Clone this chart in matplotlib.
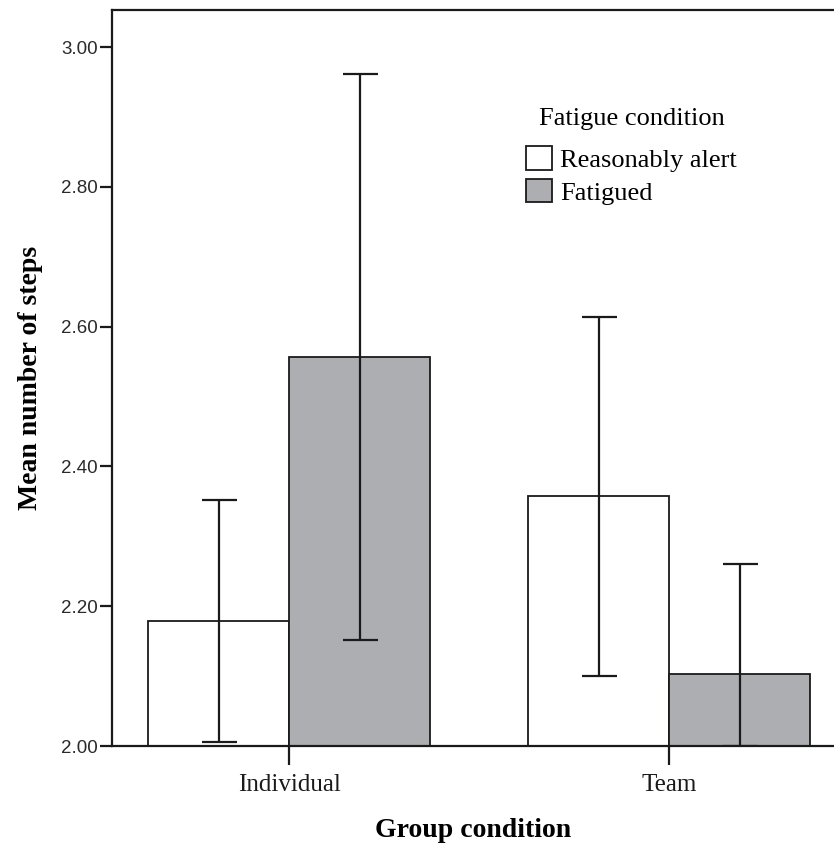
import matplotlib.pyplot as plt
import numpy as np

groups = ['Individual', 'Team']
series = ['Reasonably alert', 'Fatigued']
means = {'Reasonably alert': [2.179, 2.358], 'Fatigued': [2.556, 2.103]}
err_low = {'Reasonably alert': [2.006, 2.100], 'Fatigued': [2.152, 2.000]}
err_high = {'Reasonably alert': [2.352, 2.614], 'Fatigued': [2.961, 2.260]}
colors = {'Reasonably alert': 'white', 'Fatigued': '#adaeb2'}
yticks = [2.00, 2.20, 2.40, 2.60, 2.80, 3.00]

fig = plt.figure(figsize=(8.34, 8.44), dpi=100)
ax = fig.add_axes([0.1343, 0.1161, 0.8657, 0.872])

x = np.arange(len(groups))
w = 0.371
for i, s in enumerate(series):
    pos = x + (i - 0.5) * w
    m = np.array(means[s])
    lo = m - np.array(err_low[s])
    hi = np.array(err_high[s]) - m
    ax.bar(pos, m - 2.0, bottom=2.0, width=w, color=colors[s], edgecolor='#1a1a1a',
           linewidth=1.3, label=s, zorder=2)
    ax.errorbar(pos, m, yerr=[lo, hi], fmt='none', ecolor='#1a1a1a', elinewidth=1.6,
                capsize=12.6, capthick=1.6, zorder=3)

ax.set_xlim(-0.466, 1.434)
ax.set_ylim(2.0, 3.053)
ax.set_yticks(yticks)
ax.set_yticklabels(['%.2f' % t for t in yticks], fontfamily='Liberation Sans',
                   fontsize=13.5, color='#2a2a2a')
ax.set_xticks(x)
ax.set_xticklabels(groups, fontfamily='Liberation Serif', fontsize=18, color='#1a1a1a')
ax.tick_params(axis='y', length=9, width=1.6, pad=1, color='#1a1a1a')
ax.tick_params(axis='x', length=14, width=1.6, pad=6, color='#1a1a1a')

for sp in ['left', 'top', 'bottom']:
    ax.spines[sp].set_linewidth(1.6)
    ax.spines[sp].set_color('#1a1a1a')
ax.spines['right'].set_visible(False)

ax.set_xlabel('Group condition', fontfamily='Liberation Serif', fontweight='bold',
              fontsize=20, labelpad=16)
ax.set_ylabel('Mean number of steps', fontfamily='Liberation Serif', fontweight='bold',
              fontsize=20, labelpad=13)

leg = ax.legend(loc='upper left', bbox_to_anchor=(0.618, 0.885), bbox_transform=fig.transFigure,
                frameon=False, title='Fatigue condition', handlelength=1.0, handleheight=1.0,
                handletextpad=0.3, labelspacing=0.25, borderaxespad=0,
                prop={'family': 'Liberation Serif', 'size': 19},
                title_fontproperties={'family': 'Liberation Serif', 'size': 19})
leg._legend_box.sep = 12

fig.savefig('out.png', dpi=100)
